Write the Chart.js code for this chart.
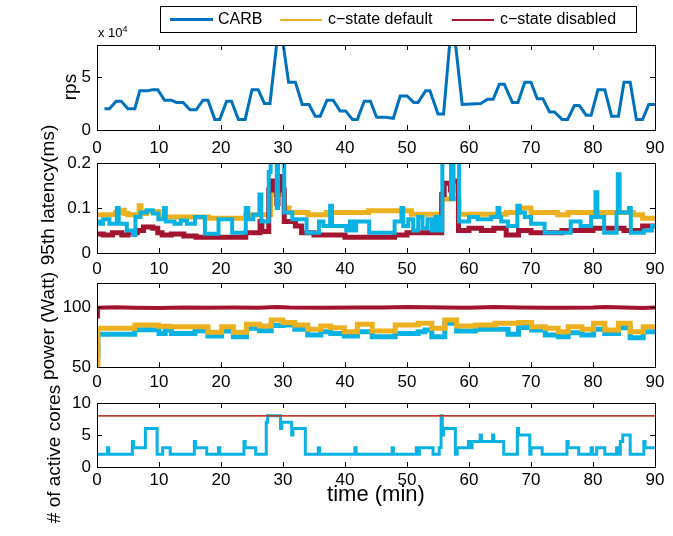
<!DOCTYPE html>
<html>
<head>
<meta charset="utf-8">
<script src="https://cdn.jsdelivr.net/npm/chart.js@4.4.0/dist/chart.umd.min.js"></script>
<style>
  body { margin: 0; background: #fff; }
  #wrap { position: relative; width: 673px; height: 536px; overflow: hidden; font-family: "Liberation Sans", Arial, sans-serif; }
  #wrap canvas { position: absolute; left: 0; top: 0; }
  .ytitle { position: absolute; white-space: nowrap; font-size: 19px; transform: translate(-50%, -50%) rotate(-90deg); }
  #legend { position: absolute; left: 160px; top: 6px; width: 475px; height: 25px; border: 1px solid #000; background: #fff; font-size: 16px; }
  .item { position: absolute; top: 3px; white-space: nowrap; }
  .sample { position: absolute; }
</style>
</head>
<body>
<div id="wrap">
  <canvas id="c1" width="673" height="536"></canvas>
  <canvas id="c2" width="673" height="536"></canvas>
  <canvas id="c3" width="673" height="536"></canvas>
  <canvas id="c4" width="673" height="536"></canvas>

  <div class="ytitle" style="left:70px; top:87px;">rps</div>
  <div class="ytitle" style="left:48px; top:195px;">95th latency(ms)</div>
  <div class="ytitle" style="left:48px; top:326px;">power (Watt)</div>
  <div class="ytitle" style="left:54px; top:454px;"># of active cores</div>
  <div style="position:absolute; left:98px; top:24px; font-size:13px;">x 10<sup style="font-size:9px;">4</sup></div>
  <div style="position:absolute; left:376px; top:494px; transform:translate(-50%,-50%); font-size:22px; white-space:nowrap;">time (min)</div>

  <div id="legend">
    <div class="sample" style="left:9px; top:11px; width:43px; height:3px; background:#0072BD;"></div>
    <div class="item" style="left:57px;">CARB</div>
    <div class="sample" style="left:119px; top:12px; width:42px; height:2px; background:#EDB120;"></div>
    <div class="item" style="left:167px;">c−state default</div>
    <div class="sample" style="left:291px; top:12px; width:42px; height:2px; background:#A2142F;"></div>
    <div class="item" style="left:339px;">c−state disabled</div>
  </div>
</div>

<script>
// time axis ticks (minutes)
const xTicks = [0, 10, 20, 30, 40, 50, 60, 70, 80, 90];

// rps (x 10^4), CARB only
const rpsTime = [1.2, 2, 3.1, 3.9, 5, 6.1, 6.9, 8.2, 9, 9.8, 10.9, 12, 12.8, 13.9, 15, 16, 17.1, 17.9, 19, 19.8,
  20.9, 21.7, 22.8, 23.9, 25, 26, 27, 27.9, 29, 30, 30.9, 32, 33.1, 34.2, 35.2, 36, 37.1, 38.1, 39.2, 40.1,
  41.2, 42, 43.1, 44.1, 45.1, 46.5, 47.8, 48.9, 50, 51.1, 51.8, 53, 53.7, 55, 55.9, 56.9, 57.8, 58.9, 61.9,
  63, 63.9, 64.9, 65.7, 67, 67.9, 69, 70, 71, 71.9, 73, 73.8, 75, 75.9, 77, 77.8, 78.9, 79.7, 80.8, 81.9,
  83, 84.1, 85, 86, 87, 88, 89, 90];
const rpsValue = [2.0, 2.0, 2.7, 2.7, 2.0, 2.0, 3.7, 3.7, 3.8, 3.8, 2.8, 2.8, 2.6, 2.6, 1.9, 1.9, 2.8, 2.8, 1.0, 1.0,
  2.7, 2.7, 1.0, 1.0, 3.8, 3.8, 2.5, 2.5, 8.2, 8.2, 4.5, 4.5, 2.4, 2.4, 1.3, 1.3, 2.8, 2.8, 1.8, 1.8,
  1.0, 1.0, 2.7, 2.7, 1.2, 1.2, 1.1, 3.2, 3.2, 2.6, 2.6, 3.7, 3.7, 1.5, 1.5, 8.2, 8.2, 2.4, 2.5,
  2.9, 2.9, 4.3, 4.3, 2.6, 2.6, 4.5, 4.5, 2.95, 2.95, 1.7, 1.7, 1.0, 1.0, 2.3, 2.3, 1.4, 1.4, 3.8, 3.8,
  1.3, 1.3, 4.5, 4.5, 1.0, 1.0, 2.4, 2.4];
const rpsTicks = [0, 5];

// 95th latency (ms)
const latCarbTime = [0, 0.5, 1, 2, 3.2, 3.5, 4.8, 5.8, 6.2, 7, 8, 9, 9.9, 10.8, 11.1, 12.5, 13.5, 14.5, 15.8, 17.4,
  19.6, 21.8, 24, 24.4, 25.2, 26.2, 26.5, 27.7, 28, 29, 29.2, 30.2, 31.5, 33.8, 35.8, 36.5, 37.6, 37.9, 40.2, 40.8,
  41.3, 41.8, 43.9, 48, 49.1, 49.4, 50.2, 51, 51.8, 52.5, 53.3, 54, 54.6, 55.2, 55.7, 57.1, 57.5, 58.4, 60, 61.4,
  63.6, 64.6, 64.9, 65.2, 66.3, 67.8, 68.2, 69, 70, 72.2, 76.4, 78, 79.7, 80.4, 80.7, 81.8, 83.8, 84, 84.3, 85.8,
  86.1, 88.2, 89.5, 90];
const latCarbValue = [0.07, 0.065, 0.075, 0.065, 0.1, 0.065, 0.05, 0.04, 0.08, 0.09, 0.095, 0.088, 0.075, 0.1, 0.07, 0.065, 0.072, 0.065, 0.08, 0.043,
  0.075, 0.045, 0.1, 0.075, 0.085, 0.13, 0.07, 0.18, 0.21, 0.1, 0.21, 0.09, 0.075, 0.045, 0.07, 0.06, 0.105, 0.06, 0.05, 0.07,
  0.05, 0.07, 0.045, 0.07, 0.1, 0.06, 0.075, 0.05, 0.08, 0.055, 0.075, 0.05, 0.08, 0.05, 0.21, 0.12, 0.21, 0.07, 0.08, 0.075,
  0.08, 0.1, 0.08, 0.07, 0.06, 0.105, 0.09, 0.08, 0.065, 0.045, 0.07, 0.06, 0.08, 0.135, 0.08, 0.045, 0.09, 0.175, 0.09, 0.1,
  0.045, 0.05, 0.06, 0.06];
const latDefTime = [0, 3, 4, 4.4, 5, 6.8, 7.1, 8, 10, 16, 18, 24, 28, 30.2, 31, 34, 37, 43.8, 50.7, 55.6,
  58.4, 66, 68, 70, 74.3, 76, 86.5, 88, 90];
const latDefValue = [0.085, 0.09, 0.095, 0.088, 0.085, 0.105, 0.088, 0.092, 0.08, 0.08, 0.077, 0.085, 0.13, 0.1, 0.09, 0.085, 0.09, 0.094, 0.086, 0.12,
  0.086, 0.09, 0.1, 0.09, 0.085, 0.09, 0.085, 0.077, 0.077];
const latDisTime = [0, 1, 2.5, 4, 5, 6.5, 7.5, 9, 9.8, 10.5, 12, 14, 16, 20, 24, 26.3, 26.6, 27.7, 28.3, 29,
  29.2, 29.8, 30.2, 32, 33, 35, 38, 40, 48, 50, 55.6, 56, 57, 57.4, 58.3, 60, 62, 64, 66, 68,
  70, 75, 80, 83, 85, 88, 90];
const latDisValue = [0.042, 0.04, 0.045, 0.04, 0.045, 0.05, 0.058, 0.055, 0.045, 0.04, 0.042, 0.038, 0.035, 0.035, 0.045, 0.07, 0.048, 0.14, 0.16, 0.11,
  0.17, 0.14, 0.07, 0.06, 0.045, 0.04, 0.04, 0.035, 0.04, 0.045, 0.13, 0.155, 0.14, 0.16, 0.05, 0.055, 0.05, 0.055, 0.04, 0.05,
  0.045, 0.05, 0.055, 0.055, 0.05, 0.06, 0.06];
const latTicks = [0, 0.1, 0.2];

// power (Watt)
const powCarbTime = [0, 0.15, 6.1, 10, 11, 12, 15.8, 17.9, 20.1, 22, 24.1, 26.2, 28.1, 30, 31.9, 34, 36.1, 37.7, 39.9, 42,
  44.4, 48.1, 51.8, 52.9, 54, 56.1, 58, 61, 66.3, 68, 70.1, 72.3, 74.4, 76, 78.2, 80.1, 81.9, 84.1, 86, 88.1, 90];
const powCarbValue = [60, 77.2, 81, 78, 80.8, 78, 80.3, 75.8, 80, 75.3, 82.2, 80.3, 84.5, 85, 81.4, 76.7, 79.4, 78, 75.8, 79.4,
  75.3, 78, 79.4, 80.8, 75.3, 86.4, 80, 81.4, 77.2, 83, 80.8, 76.7, 75.3, 78.6, 76.7, 81.4, 78, 82.8, 74.4, 79.4, 79.4];
const powDefTime = [0, 0.15, 6.1, 9.9, 11.8, 17.9, 20.1, 22, 24.1, 26.2, 28.1, 30, 31.9, 34, 36.1, 37.7, 39.9, 42, 44.4, 48.1,
  51.8, 54, 56.1, 58, 61, 64.2, 68, 70.1, 72.3, 74.4, 76, 78.2, 80.1, 81.9, 84.1, 86, 88.1, 90];
const powDefValue = [52, 82.2, 85, 84, 83.5, 79, 83.6, 79, 85.6, 84.2, 89.2, 87, 85, 81.4, 84.2, 82.8, 79.4, 85.6, 80, 85,
  86.4, 82.2, 89.2, 84.2, 85, 86.4, 87, 83.6, 82.2, 79.4, 83.6, 81.4, 86.4, 80.8, 86.4, 79.4, 83.6, 83.6];
const powDisTime = [0, 0.15, 3, 6, 10, 14, 18, 22, 26, 29, 31, 36, 42, 46, 50, 53, 56, 60, 64, 68,
  72, 76, 80, 82, 85, 88, 90];
const powDisValue = [92, 99.3, 99.8, 99.4, 99.2, 99.6, 99.3, 99.5, 99.3, 100, 99.6, 99.3, 99.6, 99.5, 100.1, 99.8, 99.6, 99.4, 99.9, 99.6,
  99.3, 99.4, 99.6, 100, 99.5, 99.2, 99.5];
const powTicks = [50, 100];

// number of active cores
const coreCarbTime = [0, 1.7, 1.9, 5.7, 5.9, 7.8, 9.7, 10.6, 11.8, 15.7, 15.9, 17.7, 19.6, 19.8, 23.7, 23.9, 25.6, 27.3, 27.5, 29.6,
  29.8, 31.4, 31.6, 33.6, 35.7, 35.9, 41.6, 41.8, 47.6, 47.8, 51.5, 51.7, 52, 54.2, 55.2, 55.5, 55.7, 55.9, 57.8, 58.1,
  59.9, 60.1, 60.5, 61.8, 62, 63.8, 64, 65.6, 67.8, 68, 69.8, 70, 71.8, 75.8, 76, 77.7, 79.7, 79.9, 80.6, 81.9,
  83.8, 84, 84.4, 84.8, 86, 88.2, 88.4, 90];
const coreCarbValue = [2, 3, 2, 4, 3, 6, 2, 3, 2, 4, 3, 2, 3, 2, 4, 3, 2, 7, 8, 6,
  7, 5, 6, 2, 3, 2, 3, 2, 3, 2, 3, 2, 3, 2, 3, 8, 5, 6, 2, 3,
  4, 3, 4, 5, 4, 5, 4, 2, 6, 5, 2, 3, 2, 4, 3, 2, 3, 2, 3, 2,
  3, 2, 4, 5, 2, 4, 3, 3];
const coreDefTime = [0, 90];
const coreDefValue = [8, 8];
const coreDisTime = [0, 90];
const coreDisValue = [8, 8];
const coreTicks = [0, 5, 10];

const BLUE = '#0AB2E4', DARKBLUE = '#0072BD', GOLD = '#EDB120', RED = '#A2142F';

Chart.defaults.font.family = '"Liberation Sans", Arial, sans-serif';
Chart.defaults.font.size = 17;
Chart.defaults.color = '#000';

function pts(t, v) {
  return t.map((x, i) => ({ x: x, y: v[i] }));
}

// MATLAB style box with inward ticks on all four sides
const boxPlugin = {
  id: 'box',
  afterDraw(chart) {
    const { ctx, chartArea: a, scales } = chart;
    ctx.save();
    ctx.strokeStyle = '#000';
    ctx.lineWidth = 1;
    ctx.beginPath();
    scales.x.ticks.forEach(t => {
      const px = Math.round(scales.x.getPixelForValue(t.value)) + 0.5;
      ctx.moveTo(px, a.bottom); ctx.lineTo(px, a.bottom - 5);
      ctx.moveTo(px, a.top); ctx.lineTo(px, a.top + 5);
    });
    scales.y.ticks.forEach(t => {
      const py = Math.round(scales.y.getPixelForValue(t.value)) + 0.5;
      ctx.moveTo(a.left, py); ctx.lineTo(a.left + 5, py);
      ctx.moveTo(a.right, py); ctx.lineTo(a.right - 5, py);
    });
    ctx.stroke();
    ctx.strokeRect(Math.round(a.left) + 0.5, Math.round(a.top) + 0.5, Math.round(a.width), Math.round(a.height));
    ctx.restore();
  }
};

function makePanel(id, top, bottom, yMin, yMax, yTicks, datasets, labelPad) {
  const YW = 50, XH = 30;
  return new Chart(document.getElementById(id), {
    type: 'line',
    data: { datasets: datasets },
    options: {
      responsive: false,
      animation: false,
      events: [],
      layout: { padding: { left: 97 - YW, right: 18, top: top, bottom: 536 - bottom - XH } },
      plugins: { legend: { display: false }, tooltip: { enabled: false } },
      elements: { point: { radius: 0 }, line: { tension: 0 } },
      scales: {
        x: {
          type: 'linear', min: 0, max: 90,
          grid: { display: false, drawTicks: false }, border: { display: false },
          ticks: { padding: labelPad, maxRotation: 0 },
          afterBuildTicks: s => { s.ticks = xTicks.map(v => ({ value: v })); },
          afterFit: s => { s.height = XH; s.paddingLeft = 0; s.paddingRight = 0; }
        },
        y: {
          type: 'linear', min: yMin, max: yMax,
          grid: { display: false, drawTicks: false }, border: { display: false },
          ticks: { padding: 6 },
          afterBuildTicks: s => { s.ticks = yTicks.map(v => ({ value: v })); },
          afterFit: s => { s.width = YW; s.paddingTop = 0; s.paddingBottom = 0; }
        }
      }
    },
    plugins: [boxPlugin]
  });
}

makePanel('c1', 45, 130, 0, 8, rpsTicks, [
  { data: pts(rpsTime, rpsValue), borderColor: DARKBLUE, borderWidth: 3, clip: 0 }
], 8);

makePanel('c2', 163, 253, 0, 0.2, latTicks, [
  { data: pts(latCarbTime, latCarbValue), borderColor: BLUE, borderWidth: 4, stepped: true, clip: 0 },
  { data: pts(latDisTime, latDisValue), borderColor: RED, borderWidth: 5, stepped: true, clip: 0 },
  { data: pts(latDefTime, latDefValue), borderColor: GOLD, borderWidth: 5, stepped: true, clip: 0 }
], 6);

makePanel('c3', 283, 367, 50, 120, powTicks, [
  { data: pts(powDisTime, powDisValue), borderColor: RED, borderWidth: 4, clip: 0 },
  { data: pts(powDefTime, powDefValue), borderColor: GOLD, borderWidth: 5, stepped: true, clip: 0 },
  { data: pts(powCarbTime, powCarbValue), borderColor: BLUE, borderWidth: 5, stepped: true, clip: 0 }
], 5);

makePanel('c4', 403, 467, 0, 10, coreTicks, [
  { data: pts(coreDisTime, coreDisValue), borderColor: RED, borderWidth: 1.2, clip: 0 },
  { data: pts(coreDefTime, coreDefValue), borderColor: GOLD, borderWidth: 1.2, clip: 0 },
  { data: pts(coreCarbTime, coreCarbValue), borderColor: BLUE, borderWidth: 3, stepped: true, clip: 0 }
], 3);
</script>
</body>
</html>
